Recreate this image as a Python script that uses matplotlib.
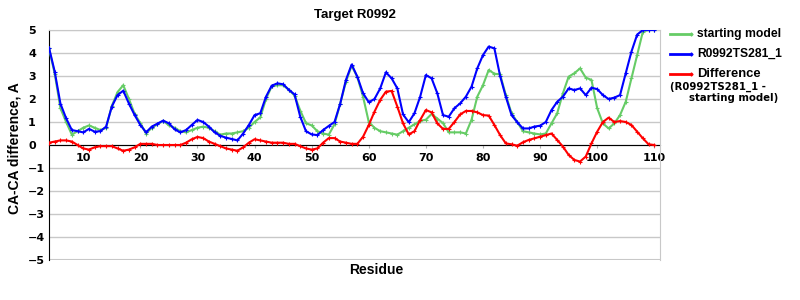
import numpy as np
import matplotlib
matplotlib.use('Agg')
import matplotlib.pyplot as plt
from matplotlib.lines import Line2D

# residues 4..110
residues = list(range(4, 111))

starting_model = [4.2, 3.1, 1.6, 1.0, 0.45, 0.6, 0.75, 0.85, 0.75, 0.65,
                  0.75, 1.7, 2.3, 2.6, 2.0, 1.35, 0.95, 0.5, 0.75, 0.9,
                  1.05, 0.85, 0.75, 0.6, 0.55, 0.65, 0.75, 0.8, 0.75, 0.6,
                  0.45, 0.5, 0.5, 0.55, 0.6, 0.75, 1.0, 1.2, 2.0, 2.55,
                  2.6, 2.6, 2.4, 2.15, 1.5, 0.95, 0.85, 0.6, 0.5, 0.45,
                  0.9, 1.8, 2.75, 3.45, 2.95, 2.1, 1.0, 0.75, 0.6, 0.55,
                  0.5, 0.45, 0.6, 0.75, 0.9, 1.05, 1.1, 1.35, 1.15, 0.95,
                  0.55, 0.55, 0.55, 0.5, 1.1, 2.1, 2.6, 3.26, 3.1, 3.07,
                  2.17, 1.38, 1.0, 0.6, 0.55, 0.5, 0.46, 0.5, 0.94, 1.38,
                  2.25, 2.97, 3.12, 3.33, 2.93, 2.83, 1.6, 0.94, 0.72, 0.94,
                  1.3, 1.88, 2.9, 3.91, 4.93, 5.0, 5.0]

model_281 = [4.23, 3.19, 1.8, 1.16, 0.65, 0.6, 0.55, 0.7, 0.58, 0.6,
             0.8, 1.67, 2.17, 2.36, 1.8, 1.3, 0.87, 0.55, 0.8, 0.93,
             1.06, 0.94, 0.68, 0.55, 0.65, 0.87, 1.09, 1.0, 0.8, 0.55,
             0.4, 0.32, 0.26, 0.2, 0.5, 0.87, 1.3, 1.38, 2.1, 2.58,
             2.68, 2.64, 2.4, 2.2, 1.23, 0.6, 0.46, 0.43, 0.65, 0.83,
             1.0, 1.8, 2.83, 3.5, 2.97, 2.25, 1.86, 2.0, 2.46, 3.16,
             2.9, 2.46, 1.33, 0.99, 1.38, 2.1, 3.04, 2.9, 2.25, 1.3,
             1.23, 1.6, 1.81, 2.1, 2.54, 3.33, 3.91, 4.28, 4.2, 3.0,
             2.1, 1.3, 0.99, 0.72, 0.72, 0.8, 0.84, 1.0, 1.52, 1.88,
             2.1, 2.46, 2.39, 2.46, 2.17, 2.49, 2.43, 2.17, 2.0, 2.06,
             2.17, 3.12, 4.06, 4.8, 5.0, 5.0, 5.0]

difference = [0.1, 0.15, 0.2, 0.2, 0.15, 0.0, -0.15, -0.2, -0.1, -0.05,
              -0.05, -0.05, -0.15, -0.25, -0.2, -0.1, 0.05, 0.05, 0.05, 0.0,
              0.0, 0.0, 0.0, 0.0, 0.1, 0.25, 0.35, 0.3, 0.15, 0.05,
              -0.05, -0.15, -0.2, -0.25, -0.1, 0.1, 0.25, 0.2, 0.15, 0.1,
              0.1, 0.1, 0.05, 0.05, -0.05, -0.15, -0.2, -0.15, 0.1, 0.3,
              0.3, 0.15, 0.1, 0.05, 0.05, 0.36, 0.87, 1.45, 1.96, 2.32,
              2.35, 1.67, 0.94, 0.46, 0.6, 1.09, 1.52, 1.42, 0.94, 0.7,
              0.7, 1.0, 1.33, 1.48, 1.48, 1.42, 1.3, 1.28, 0.87, 0.43,
              0.07, 0.03, -0.03, 0.12, 0.22, 0.29, 0.36, 0.43, 0.5, 0.22,
              -0.07, -0.43, -0.65, -0.72, -0.5, 0.07, 0.58, 1.0, 1.19, 1.0,
              1.04, 1.0, 0.87, 0.58, 0.29, 0.03, 0.0]

x_ticks = list(range(10, 111, 10))
y_ticks = list(range(-5, 6))

GREEN = '#66cc66'
BLUE = '#0000ff'
RED = '#ff0000'
TICKFONT = 'DejaVu Sans'
TEXTFONT = 'Liberation Sans'

fig = plt.figure(figsize=(8, 3), dpi=100)
ax = fig.add_axes([49 / 800, 40 / 300, 611 / 800, 230 / 300])

ax.plot(residues, starting_model, color=GREEN, lw=1.5, marker='+', ms=2.5, mew=0.8, zorder=3)
ax.plot(residues, model_281, color=BLUE, lw=1.5, marker='+', ms=2.5, mew=0.8, zorder=4)
ax.plot(residues, difference, color=RED, lw=1.5, marker='+', ms=2.5, mew=0.8, zorder=5)

ax.set_xlim(4, 111)
ax.set_ylim(-5, 5)
ax.set_xticks(x_ticks)
ax.set_yticks(y_ticks)
ax.grid(axis='y', color='#c8c8c8', lw=1)
ax.set_axisbelow(True)

for s in ['top', 'right', 'bottom']:
    ax.spines[s].set_color('#c8c8c8')
ax.spines['left'].set_color('black')
ax.spines['bottom'].set_position(('data', 0))
ax.spines['bottom'].set_color('black')
ax.spines['bottom'].set_zorder(2)
# gray frame line at the bottom (-5)
ax.axhline(-5, color='#c8c8c8', lw=1.5, zorder=1)

ax.tick_params(axis='x', length=2, color='#aaaaaa', pad=4, labelsize=8)
ax.tick_params(axis='y', length=0, pad=15, labelsize=8)
for lab in ax.get_xticklabels() + ax.get_yticklabels():
    lab.set_fontfamily(TICKFONT)
    lab.set_fontweight('bold')
for lab in ax.get_yticklabels():
    lab.set_ha('left')

fig.text(355 / 800, 1 - 15 / 300, 'Target R0992', ha='center', va='center',
         fontsize=9.5, fontweight='bold', family=TEXTFONT)
fig.text(376 / 800, 1 - 270 / 300, 'Residue', ha='center', va='center',
         fontsize=10, fontweight='bold', family=TEXTFONT)
fig.text(15 / 800, 1 - 148 / 300, 'CA-CA difference, A', ha='center', va='center',
         rotation=90, fontsize=10, fontweight='bold', family=TEXTFONT)

# legend
leg_rows = [(34, GREEN, 'starting model', 8.7),
            (54, BLUE, 'R0992TS281_1', 8.7),
            (74, RED, 'Difference', 9.4)]
for y, c, txt, fs in leg_rows:
    fy = 1 - y / 300
    fig.add_artist(Line2D([670 / 800, 691 / 800], [fy, fy], color=c, lw=2,
                          marker='+', ms=2.5, markevery=[1], transform=fig.transFigure))
    fig.text(697 / 800, fy, txt, ha='left', va='center', fontsize=fs,
             fontweight='bold', family=TEXTFONT)
fig.text(670 / 800, 1 - 87 / 300, '(R0992TS281_1 -', ha='left', va='center',
         fontsize=7.3, fontweight='bold', family=TICKFONT)
fig.text(778 / 800, 1 - 98 / 300, 'starting model)', ha='right', va='center',
         fontsize=7.3, fontweight='bold', family=TICKFONT)

fig.savefig('out.png', dpi=100)
